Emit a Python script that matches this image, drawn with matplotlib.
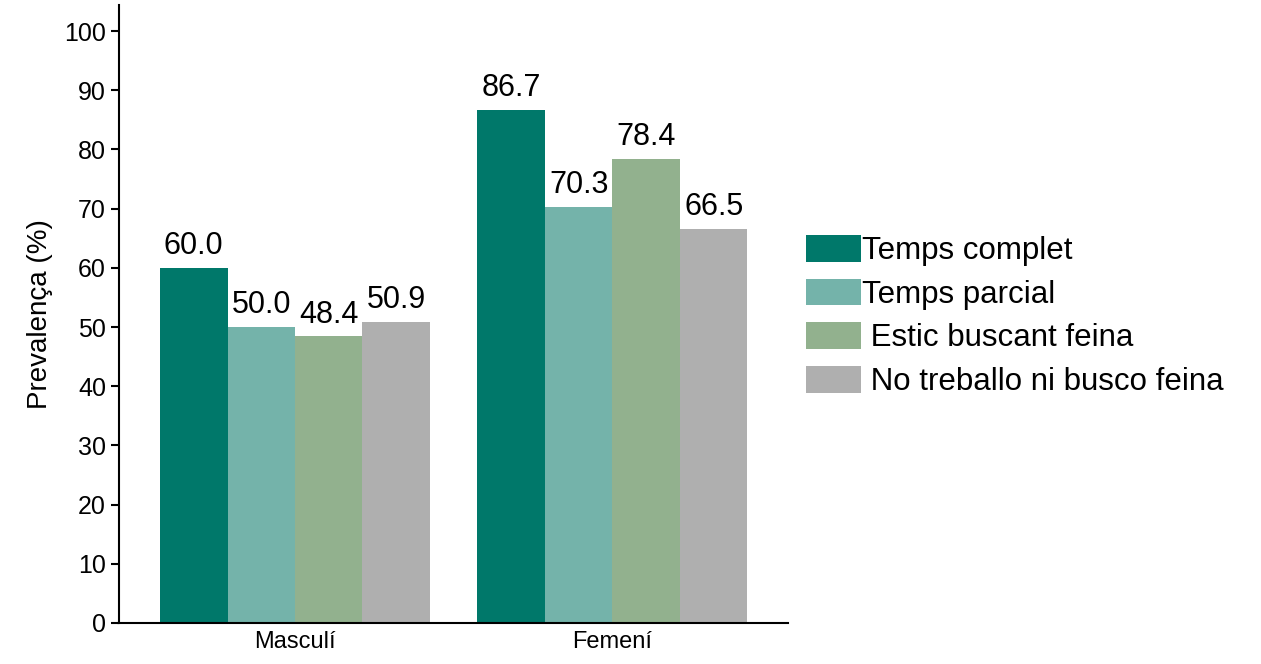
import numpy as np
import matplotlib.pyplot as plt

plt.rcParams['font.family'] = ['Liberation Sans', 'DejaVu Sans']

groups = ['Masculí', 'Femení']
series = ['Temps complet', 'Temps parcial', ' Estic buscant feina', ' No treballo ni busco feina']
values = [
    [60.0, 86.7],   # Temps complet
    [50.0, 70.3],   # Temps parcial
    [48.4, 78.4],   # Estic buscant feina
    [50.9, 66.5],   # No treballo ni busco feina
]
colors = ['#00786A', '#74B3AA', '#92B18E', '#AFAFAF']
yticks = np.arange(0, 101, 10)

fig = plt.figure(figsize=(12.61, 6.64), dpi=100)
ax = fig.add_axes([118.5/1261, 1 - 623/664, (788 - 118.5)/1261, (623 - 5)/664])

x = np.arange(len(groups))
w = 0.2126
for i, (name, vals) in enumerate(zip(series, values)):
    pos = x + (i - 1.5) * w
    bars = ax.bar(pos, vals, width=w, color=colors[i], label=name, linewidth=0)
    for b, v in zip(bars, vals):
        ax.annotate('%.1f' % v, (b.get_x() + b.get_width()/2, v), xytext=(0, 5),
                    textcoords='offset points', ha='center', va='bottom', fontsize=22)

ax.set_xlim(-0.556, 1.553)
ax.set_ylim(0, 104.4)
ax.set_yticks(yticks)
ax.set_xticks(x)
ax.set_xticklabels(groups, fontsize=17)
ax.tick_params(axis='y', labelsize=18, length=6, width=1.5, pad=3)
ax.tick_params(axis='x', length=0, pad=6)
ax.set_ylabel('Prevalença (%)', fontsize=20, labelpad=8)

for s in ['top', 'right']:
    ax.spines[s].set_visible(False)
for s in ['left', 'bottom']:
    ax.spines[s].set_linewidth(1.5)

fig.legend(loc='center left', bbox_to_anchor=(806/1261, 1 - 316/664), frameon=False,
           fontsize=22.5, handlelength=1.75, handleheight=0.95, handletextpad=0.05,
           labelspacing=0.4, borderpad=0, borderaxespad=0)

fig.savefig('out.png', dpi=100)
